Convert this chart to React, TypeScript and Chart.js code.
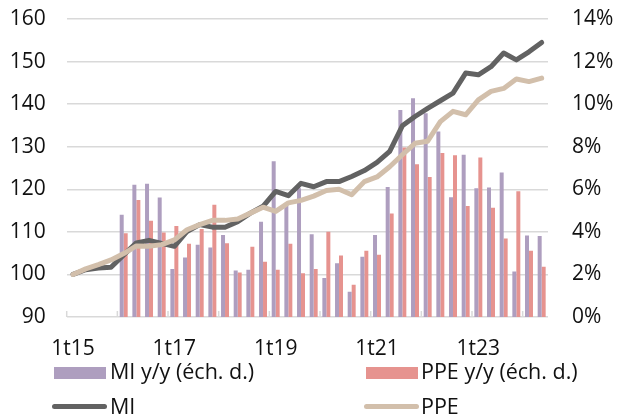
import React, { useEffect, useRef } from "react";
import { Chart, registerables } from "chart.js";

Chart.register(...registerables);

const categories = [
  "1t15", "2t15", "3t15", "4t15",
  "1t16", "2t16", "3t16", "4t16",
  "1t17", "2t17", "3t17", "4t17",
  "1t18", "2t18", "3t18", "4t18",
  "1t19", "2t19", "3t19", "4t19",
  "1t20", "2t20", "3t20", "4t20",
  "1t21", "2t21", "3t21", "4t21",
  "1t22", "2t22", "3t22", "4t22",
  "1t23", "2t23", "3t23", "4t23",
  "1t24", "2t24",
];

const shownTickLabels = ["1t15", "1t17", "1t19", "1t21", "1t23"];

const miIndex = [
  100, 101.1, 101.5, 101.7, 104.6, 107.4, 108.0, 107.3, 106.6, 110.1,
  111.7, 111.1, 111.1, 112.4, 114.4, 116.0, 119.5, 118.5, 121.4, 120.6,
  121.8, 121.8, 123.0, 124.4, 126.3, 128.9, 134.9, 137.1, 139.0, 140.8,
  142.6, 147.3, 146.9, 148.8, 152.0, 150.4, 152.3, 154.5,
];

const ppeIndex = [
  100, 101.3, 102.3, 103.4, 104.9, 106.7, 106.6, 107.0, 108.1, 110.5,
  111.7, 112.7, 112.7, 113.0, 114.4, 115.8, 114.8, 116.8, 117.4, 118.4,
  119.7, 120.0, 118.7, 121.8, 122.9, 125.3, 128.1, 130.8, 131.3, 135.9,
  138.3, 137.5, 141.0, 143.0, 143.7, 145.9, 145.3, 146.1,
];

const miYoY = [
  null, null, null, null, 4.8, 6.21, 6.26, 5.61, 2.25, 2.8,
  3.39, 3.27, 3.85, 2.19, 2.22, 4.47, 7.32, 5.22, 6.05, 3.89,
  1.83, 2.52, 1.19, 2.83, 3.85, 6.11, 9.73, 10.28, 9.57, 8.71,
  5.63, 7.62, 6.05, 6.08, 6.79, 2.14, 3.83, 3.8,
];

const ppeYoY = [
  null, null, null, null, 3.94, 5.5, 4.52, 3.97, 4.28, 3.44,
  4.13, 5.27, 3.47, 2.09, 3.3, 2.6, 2.22, 3.44, 2.05, 2.25,
  4.0, 2.89, 1.52, 3.11, 2.92, 4.86, 7.96, 7.18, 6.58, 7.7,
  7.6, 5.22, 7.49, 5.13, 3.69, 5.91, 3.11, 2.36,
];

const FONT = "'Open Sans', 'Noto Sans', sans-serif";
const TEXT = "#111111";
const PURPLE = "#ae9ebf";
const RED = "#e6938f";
const DARK = "#626262";
const BEIGE = "#d2bfab";
const GRID = "#d9d9d9";
const FS = 21;

const yearTicks = {
  id: "yearTicks",
  beforeDatasetsDraw(chart: any) {
    const x = chart.scales.x;
    const y = chart.scales.y;
    const ctx = chart.ctx;
    const half = (x.getPixelForValue(1) - x.getPixelForValue(0)) / 2;
    ctx.save();
    ctx.strokeStyle = GRID;
    ctx.lineWidth = 1.5;
    for (let i = 0; i < categories.length; i += 4) {
      const px = x.getPixelForValue(i) - half;
      ctx.beginPath();
      ctx.moveTo(px, y.bottom);
      ctx.lineTo(px, y.bottom - 6);
      ctx.stroke();
    }
    ctx.restore();
  },
};

export default function App() {
  const ref = useRef<HTMLCanvasElement | null>(null);

  useEffect(() => {
    document.body.style.margin = "0";
    const canvas = ref.current;
    if (!canvas) return;
    const chart = new Chart(canvas, {
      type: "bar",
      data: {
        labels: categories,
        datasets: [
          {
            type: "line",
            label: "PPE",
            data: ppeIndex,
            yAxisID: "y",
            borderColor: BEIGE,
            backgroundColor: BEIGE,
            borderWidth: 5,
            pointRadius: 0,
            tension: 0,
            borderJoinStyle: "round",
            borderCapStyle: "round",
            order: 0,
          } as any,
          {
            type: "line",
            label: "MI",
            data: miIndex,
            yAxisID: "y",
            borderColor: DARK,
            backgroundColor: DARK,
            borderWidth: 5,
            pointRadius: 0,
            tension: 0,
            borderJoinStyle: "round",
            borderCapStyle: "round",
            order: 1,
          } as any,
          {
            type: "bar",
            label: "MI y/y (éch. d.)",
            data: miYoY,
            yAxisID: "y1",
            backgroundColor: PURPLE,
            categoryPercentage: 0.63,
            barPercentage: 1,
            order: 2,
          } as any,
          {
            type: "bar",
            label: "PPE y/y (éch. d.)",
            data: ppeYoY,
            yAxisID: "y1",
            backgroundColor: RED,
            categoryPercentage: 0.63,
            barPercentage: 1,
            order: 3,
          } as any,
        ],
      },
      options: {
        animation: false,
        responsive: false,
        maintainAspectRatio: false,
        layout: { padding: { top: 19, bottom: 59, left: 0, right: 0 } },
        plugins: {
          legend: { display: false },
          tooltip: { enabled: false },
        },
        scales: {
          x: {
            type: "category",
            offset: true,
            grid: { display: false, drawTicks: false },
            border: { display: false },
            afterFit: (s: any) => {
              s.height = 40;
            },
            ticks: {
              autoSkip: false,
              maxRotation: 0,
              minRotation: 0,
              padding: 19,
              color: TEXT,
              font: { family: FONT, size: FS },
              callback: (v: any, i: number) =>
                shownTickLabels.includes(categories[i]) ? categories[i] : "",
            },
          },
          y: {
            position: "left",
            min: 90,
            max: 160,
            grid: { color: GRID, lineWidth: 1.5, drawTicks: false },
            border: { display: false },
            afterFit: (s: any) => {
              s.width = 66.7;
              s.paddingTop = 10;
              s.paddingBottom = 10;
            },
            ticks: {
              stepSize: 10,
              padding: 21,
              color: TEXT,
              font: { family: FONT, size: FS },
            },
          },
          y1: {
            position: "right",
            min: 0,
            max: 14,
            grid: { display: false, drawTicks: false },
            border: { display: false },
            afterFit: (s: any) => {
              s.width = 72;
              s.paddingTop = 10;
              s.paddingBottom = 10;
            },
            ticks: {
              stepSize: 2,
              padding: 24,
              color: TEXT,
              font: { family: FONT, size: FS },
              callback: (v: any) => v + "%",
            },
          },
        },
      } as any,
      plugins: [yearTicks],
    });
    return () => chart.destroy();
  }, []);

  const textStyle = (left: number, top: number): React.CSSProperties => ({
    position: "absolute",
    left,
    top,
    fontFamily: FONT,
    fontSize: 21.5,
    lineHeight: "24px",
    color: TEXT,
    whiteSpace: "nowrap",
  });

  return (
    <div style={{ position: "relative", width: 620, height: 416, background: "#fff" }}>
      <canvas ref={ref} width={620} height={416} style={{ display: "block" }} />
      <div style={{ position: "absolute", left: 54, top: 367, width: 52, height: 12, background: PURPLE }} />
      <div style={textStyle(110, 359)}>MI y/y (éch. d.)</div>
      <div style={{ position: "absolute", left: 366, top: 367, width: 52, height: 12, background: RED }} />
      <div style={textStyle(421, 359)}>PPE y/y (éch. d.)</div>
      <div style={{ position: "absolute", left: 52, top: 403.5, width: 55, height: 5, borderRadius: 2.5, background: DARK }} />
      <div style={textStyle(110, 393.5)}>MI</div>
      <div style={{ position: "absolute", left: 364, top: 403.5, width: 55, height: 5, borderRadius: 2.5, background: BEIGE }} />
      <div style={textStyle(421, 393.5)}>PPE</div>
    </div>
  );
}
